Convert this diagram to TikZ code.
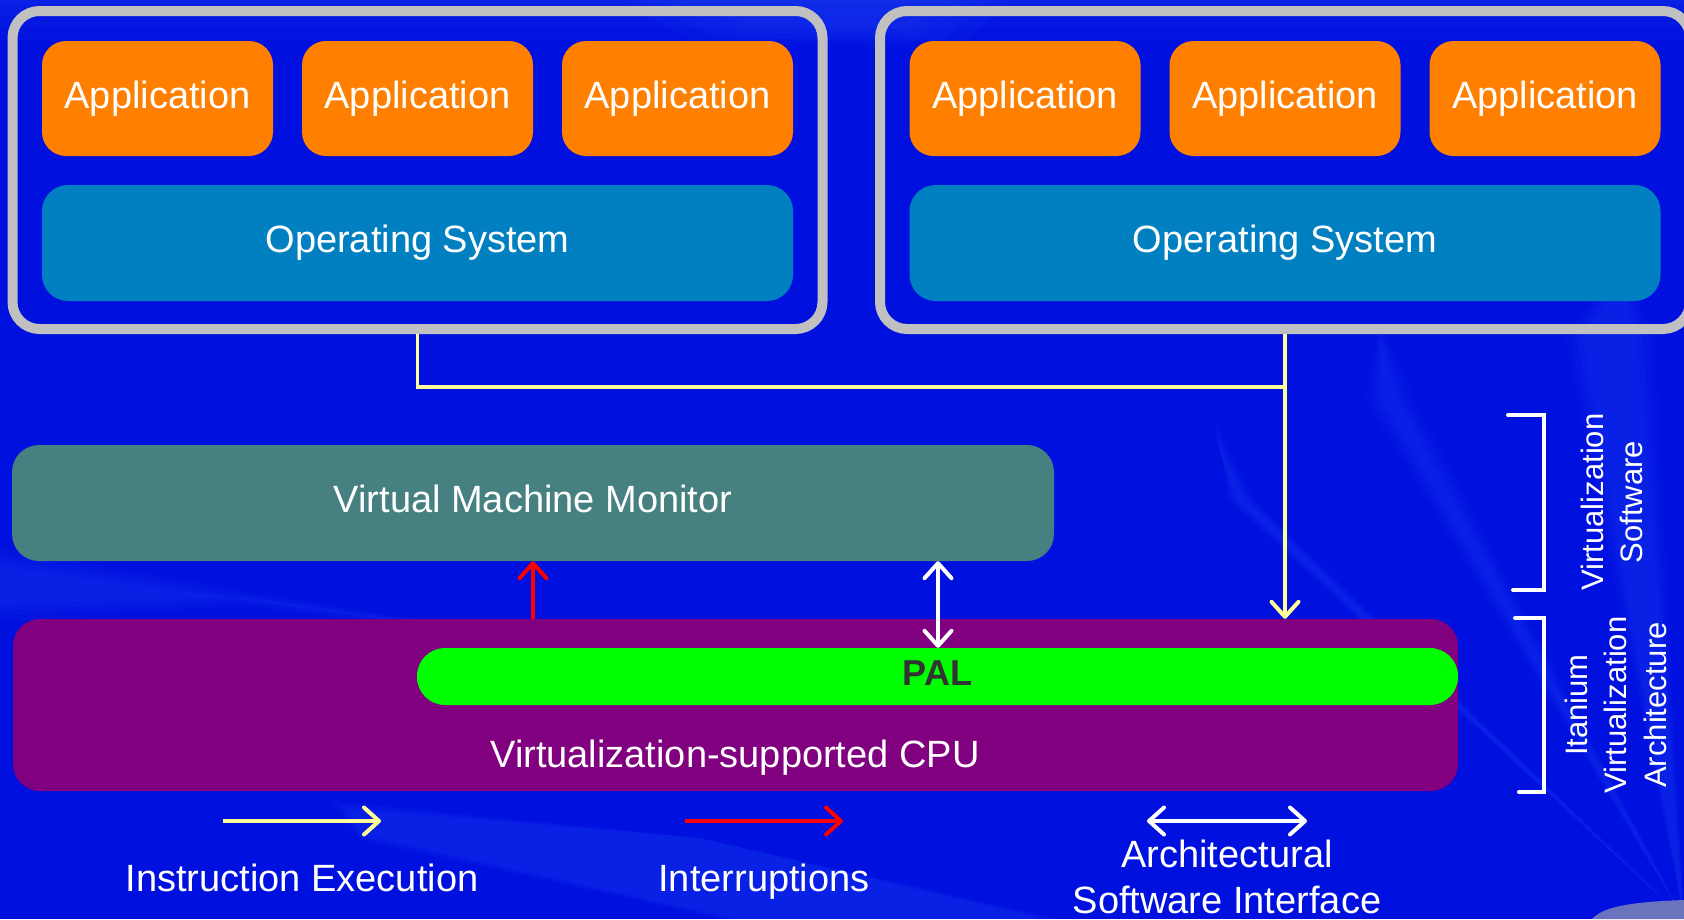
\documentclass[tikz,border=0pt]{standalone}
\usepackage{fontspec}
\setmainfont{Liberation Sans}
\usetikzlibrary{arrows.meta}

\definecolor{bgblue}{RGB}{0,16,222}
\definecolor{streak}{RGB}{45,85,255}
\definecolor{framegray}{RGB}{192,192,192}
\definecolor{apporange}{RGB}{255,128,0}
\definecolor{osblue}{RGB}{0,128,192}
\definecolor{vmmteal}{RGB}{70,128,128}
\definecolor{cpupurple}{RGB}{128,0,128}
\definecolor{palgreen}{RGB}{0,255,0}
\definecolor{paltext}{RGB}{51,51,51}
\definecolor{flowyellow}{RGB}{255,255,153}
\definecolor{intred}{RGB}{255,0,0}
\definecolor{cornerblob}{RGB}{105,115,190}

\newcommand{\bigtext}{\fontsize{38}{46}\selectfont}
\newcommand{\sidetext}{\fontsize{31}{39.5}\selectfont}

\tikzset{
  chev/.tip={Straight Barb[length=15pt, width=27pt, line width=4pt, round]},
  layer/.style={rectangle, inner sep=0pt, text=white, font=\bigtext,
    text height=27.4pt, text depth=8pt},
  vmframe/.style={rectangle, draw=framegray, line width=10pt, rounded corners=27pt,
    minimum width=810pt, minimum height=318pt},
  appbox/.style={layer, fill=apporange, rounded corners=24pt,
    minimum width=231pt, minimum height=115pt},
  osbox/.style={layer, fill=osblue, rounded corners=26pt,
    minimum width=751pt, minimum height=116pt},
  vmmbox/.style={layer, fill=vmmteal, rounded corners=27pt,
    minimum width=1042pt, minimum height=116pt},
  cpubox/.style={layer, fill=cpupurple, rounded corners=27pt,
    minimum width=1445pt, minimum height=172pt},
  palbar/.style={rectangle, inner sep=0pt, fill=palgreen, rounded corners=28pt,
    minimum width=1041pt, minimum height=57pt, text=paltext,
    font=\bfseries\fontsize{36}{42}\selectfont, text height=25.9pt, text depth=7pt},
  label/.style={inner sep=0pt, text=white, font=\bigtext},
  sidelabel/.style={inner sep=0pt, text=white, font=\sidetext, align=center, rotate=90},
  flow/.style={draw=flowyellow, line width=3.2pt},
  interrupt/.style={draw=intred, line width=3.2pt},
  interface/.style={draw=white, line width=3.2pt},
  bracket/.style={draw=white, line width=4pt, line cap=round, line join=miter},
  glow/.style={fill=streak, opacity=0.07},
}

\begin{document}
\begin{tikzpicture}[x=1pt, y=-1pt]
  \useasboundingbox (0,0) rectangle (1684,919);
  \clip (0,0) rectangle (1684,919);

  % backdrop with soft light streaks (stacked faint layers)
  \fill[bgblue] (0,0) rectangle (1684,919);
  \foreach \s in {0,6,12,18} {
    \fill[glow] (0,548+\s) -- (240,590+\s/2) -- (540,640) -- (240,606-\s/2) -- (0,622-\s) -- cycle;
    \fill[glow] (330+\s,800+\s/2) -- (700,838) -- (1060-\s,919) -- (720+\s,919) -- (360,840-\s/3) -- cycle;
    \fill[glow] (0,0) rectangle (1684,40-2*\s);
    \fill[glow] (620+3*\s,0) -- (1010-3*\s,0) -- (960-3*\s,48-\s) -- (700+3*\s,44-\s) -- cycle;
    \fill[glow] (1684,919) -- (1255-\s/2,500) -- (1215,420+\s) -- (1228+\s/2,500) -- cycle;
    \fill[glow] (1684,919) -- (1415-\s,400) -- (1380,320+\s) -- (1365+\s,400) -- cycle;
    \fill[glow] (1684,919) -- (1655-\s,340) -- (1620,260+\s) -- (1565+\s,340) -- cycle;
  }
  \fill[cornerblob] (1592,919) .. controls (1602,908) and (1625,902) .. (1684,900) -- (1684,919) -- cycle;

  % guest machines
  \node[vmframe] (lvm) at (417.5,170) {};
  \node[vmframe] (rvm) at (1285,170) {};

  \node[appbox] (lapp1) at (157.5,98.5) {Application};
  \node[appbox] (lapp2) at (417.5,98.5) {Application};
  \node[appbox] (lapp3) at (677.5,98.5) {Application};
  \node[osbox]  (los)   at (417.5,243)  {Operating System};

  \node[appbox] (rapp1) at (1025,98.5) {Application};
  \node[appbox] (rapp2) at (1285,98.5) {Application};
  \node[appbox] (rapp3) at (1545,98.5) {Application};
  \node[osbox]  (ros)   at (1285,243)  {Operating System};

  % monitor, processor and firmware layer
  \node[vmmbox] (vmm) at (533,503) {Virtual Machine Monitor};
  \node[cpubox] (cpu) at (735.5,705) {};
  \node[palbar] (pal) at (937.5,676.5) {PAL};
  \node[label, anchor=base] (cpulabel) at (735,767) {Virtualization-supported CPU};

  % guest instruction flow into the processor
  \coordinate (merge) at (1285,387);
  \draw[flow] (lvm.south) |- (merge);
  \draw[flow, -{chev}] (rvm.south) -- (rvm.south |- cpu.north);

  % interruption and architected interface
  \draw[interrupt, -{chev}] (vmm.south |- cpu.north) -- (vmm.south);
  \coordinate (asix) at (938,600);
  \draw[interface, {chev}-{chev}] (vmm.south -| asix) -- (pal.north -| asix);

  % layer brackets
  \coordinate (b1a) at (1508,415);
  \coordinate (b1b) at (1544,415);
  \coordinate (b1c) at (1544,590);
  \coordinate (b1d) at (1513,590);
  \draw[bracket] (b1a) -- (b1b) -- (b1c) -- (b1d);
  \coordinate (b2a) at (1515,618);
  \coordinate (b2b) at (1544,618);
  \coordinate (b2c) at (1544,792);
  \coordinate (b2d) at (1519,792);
  \draw[bracket] (b2a) -- (b2b) -- (b2c) -- (b2d);

  \node[sidelabel] (swlabel) at (1612,502) {Virtualization\\Software};
  \node[sidelabel] (archlabel) at (1615.5,705) {Itanium\\Virtualization\\Architecture};

  % legend
  \coordinate (ie1) at (223,821);
  \coordinate (ie2) at (381,821);
  \draw[flow, line width=4pt, -{chev}] (ie1) -- (ie2);
  \node[label, anchor=base] (ielabel) at (302,891) {Instruction Execution};

  \coordinate (ir1) at (685,821);
  \coordinate (ir2) at (843,821);
  \draw[interrupt, line width=4pt, -{chev}] (ir1) -- (ir2);
  \node[label, anchor=base] (irlabel) at (764,891) {Interruptions};

  \coordinate (as1) at (1147,821);
  \coordinate (as2) at (1307,821);
  \draw[interface, line width=4pt, {chev}-{chev}] (as1) -- (as2);
  \node[label, align=center] (aslabel) at (1227,876.5) {Architectural\\Software Interface};
\end{tikzpicture}
\end{document}
